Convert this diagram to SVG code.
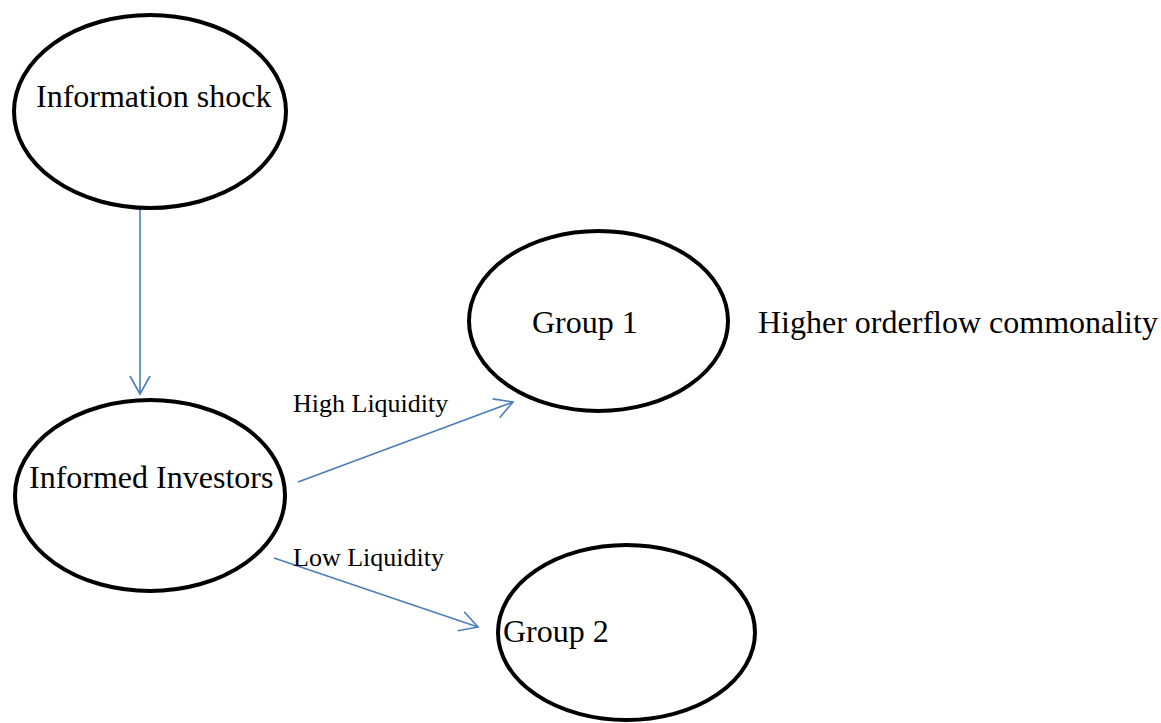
<svg xmlns="http://www.w3.org/2000/svg" width="1161" height="723" viewBox="0 0 1161 723">
<style>
.node ellipse{fill:#fff;stroke:#000;stroke-width:4}
.t{font-family:"Liberation Serif","Times New Roman",serif;font-size:32px;fill:#000}
.lbl{font-family:"Liberation Serif","Times New Roman",serif;font-size:26px;fill:#000}
.edge{stroke:#4a7ebb;stroke-width:1.6;fill:none;marker-end:url(#arr)}
</style>
<defs>
<marker id="arr" markerUnits="userSpaceOnUse" markerWidth="24" markerHeight="24" refX="20" refY="11" orient="auto" viewBox="0 0 24 24">
<path d="M2,1 L20,11 L2,21" fill="none" stroke="#4a7ebb" stroke-width="1.6"/>
</marker>
</defs>
<rect width="1161" height="723" fill="#fff"/>
<g id="connectors">
<line class="edge" x1="140" y1="208" x2="140" y2="394"/>
<line class="edge" x1="298" y1="482" x2="513" y2="402"/>
<line class="edge" x1="274" y1="558" x2="478" y2="627"/>
</g>
<g id="node-information-shock" class="node">
<ellipse cx="150" cy="111.5" rx="136" ry="96.5"/>
<text class="t" x="36" y="107">Information shock</text>
</g>
<g id="node-informed-investors" class="node">
<ellipse cx="150" cy="495.5" rx="135" ry="95.5"/>
<text class="t" x="29" y="488">Informed Investors</text>
</g>
<g id="node-group1" class="node">
<ellipse cx="598.5" cy="321" rx="129.5" ry="90"/>
<text class="t" x="532" y="333">Group 1</text>
</g>
<g id="node-group2" class="node">
<ellipse cx="626.5" cy="632.5" rx="128.5" ry="87.5"/>
<text class="t" x="503" y="642">Group 2</text>
</g>
<g id="labels">
<text class="lbl" x="293" y="412">High Liquidity</text>
<text class="lbl" x="293" y="566">Low Liquidity</text>
<text class="t" x="758" y="333">Higher orderflow commonality</text>
</g>
</svg>
